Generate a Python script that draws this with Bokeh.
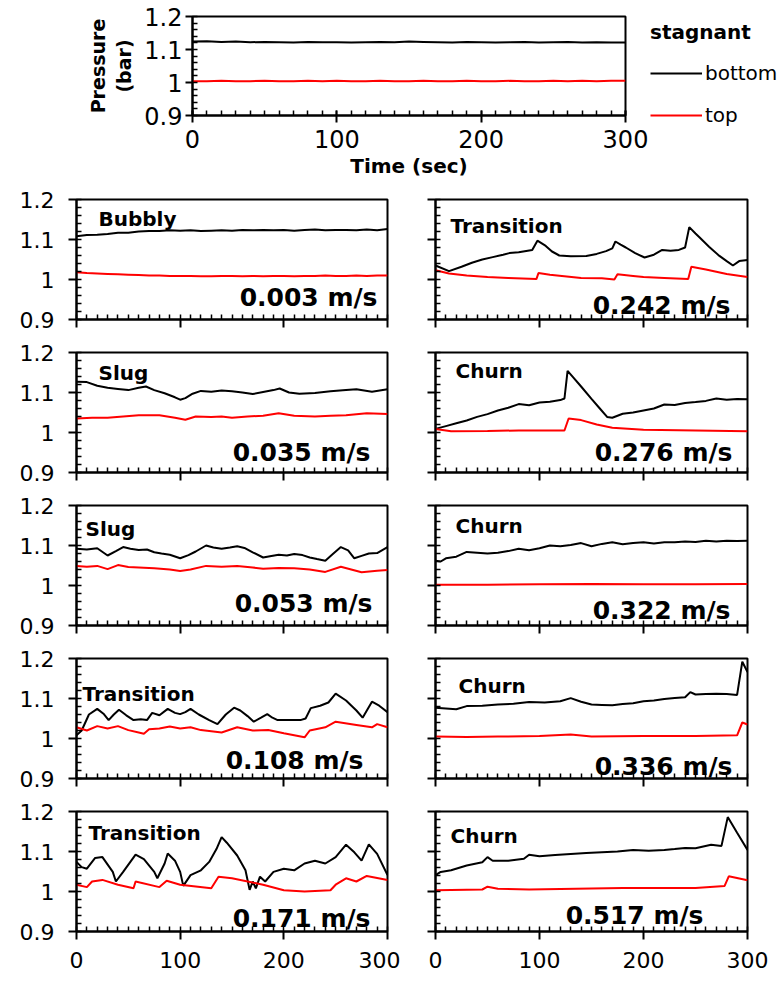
from bokeh.plotting import figure
from bokeh.layouts import column, row
from bokeh.models import Range1d, FixedTicker, Label, Legend, LegendItem, CustomLabelingPolicy
from bokeh.embed import file_html
from bokeh.resources import INLINE

FONT = "DejaVu Sans"
BLACK = "#000000"
RED = "#ff0000"

# ---------------- data ----------------
X_TICKS = [0, 100, 200, 300]
Y_TICKS = [0.9, 1.0, 1.1, 1.2]
Y_TICK_LABELS = ["0.9", "1", "1.1", "1.2"]

stag_t = [0, 10, 20, 30, 40, 50, 60, 70, 80, 90, 100, 110, 120, 130, 140, 150,
          160, 170, 180, 190, 200, 210, 220, 230, 240, 250, 260, 270, 280, 290, 300]
stag_bottom = [1.124, 1.125, 1.123, 1.124, 1.122, 1.123, 1.122, 1.121, 1.123, 1.122, 1.122,
               1.121, 1.122, 1.123, 1.122, 1.124, 1.123, 1.122, 1.121, 1.123, 1.122, 1.121,
               1.122, 1.123, 1.121, 1.122, 1.123, 1.121, 1.122, 1.121, 1.121]
stag_top = [1.004, 1.004, 1.005, 1.004, 1.004, 1.005, 1.004, 1.004, 1.005, 1.004, 1.005,
            1.004, 1.004, 1.005, 1.004, 1.004, 1.005, 1.004, 1.004, 1.005, 1.004, 1.004,
            1.005, 1.004, 1.004, 1.005, 1.004, 1.005, 1.004, 1.005, 1.005]

regimes = ["Bubbly", "Slug", "Slug", "Transition", "Transition",
           "Transition", "Churn", "Churn", "Churn", "Churn"]
speeds = ["0.003 m/s", "0.035 m/s", "0.053 m/s", "0.108 m/s", "0.171 m/s",
          "0.242 m/s", "0.276 m/s", "0.322 m/s", "0.336 m/s", "0.517 m/s"]

# 0.003 m/s
b003_t = stag_t
b003_bottom = [1.108, 1.111, 1.112, 1.114, 1.117, 1.117, 1.120, 1.121, 1.121, 1.123, 1.122,
               1.123, 1.121, 1.122, 1.123, 1.122, 1.124, 1.123, 1.124, 1.123, 1.124, 1.122,
               1.124, 1.125, 1.123, 1.124, 1.124, 1.123, 1.125, 1.123, 1.126]
b003_top_t = stag_t
b003_top = [1.018, 1.016, 1.015, 1.014, 1.013, 1.012, 1.011, 1.010, 1.010, 1.009, 1.009,
            1.009, 1.008, 1.008, 1.009, 1.009, 1.008, 1.009, 1.008, 1.009, 1.009, 1.008,
            1.009, 1.009, 1.010, 1.009, 1.009, 1.010, 1.009, 1.010, 1.010]

# 0.035 m/s
s035_t = [0, 10, 20, 30, 40, 50, 60, 67, 75, 85, 95, 100, 105, 112, 120, 130, 140, 150, 160,
          170, 180, 190, 196, 205, 215, 230, 245, 260, 270, 285, 300]
s035_bottom = [1.127, 1.126, 1.117, 1.112, 1.109, 1.106, 1.112, 1.115, 1.106, 1.098, 1.088,
               1.082, 1.086, 1.097, 1.104, 1.102, 1.105, 1.103, 1.100, 1.096, 1.101, 1.106,
               1.110, 1.100, 1.097, 1.099, 1.103, 1.106, 1.108, 1.102, 1.108]
s035_top_t = [0, 15, 30, 45, 60, 80, 95, 105, 115, 130, 140, 150, 165, 180, 195, 210, 230,
              245, 260, 280, 300]
s035_top = [1.035, 1.037, 1.037, 1.040, 1.043, 1.043, 1.037, 1.032, 1.040, 1.039, 1.040,
            1.037, 1.040, 1.042, 1.048, 1.042, 1.040, 1.042, 1.043, 1.048, 1.046]

# 0.053 m/s
s053_t = [0, 10, 20, 30, 38, 45, 52, 60, 68, 75, 82, 90, 100, 108, 115, 125, 132, 140, 148,
          155, 162, 170, 180, 188, 195, 203, 210, 218, 225, 232, 240, 247, 255, 262, 268,
          275, 282, 290, 300]
s053_bottom = [1.092, 1.090, 1.093, 1.075, 1.086, 1.096, 1.092, 1.089, 1.090, 1.083, 1.080,
               1.077, 1.068, 1.076, 1.085, 1.100, 1.095, 1.092, 1.095, 1.098, 1.094, 1.083,
               1.070, 1.074, 1.077, 1.075, 1.079, 1.076, 1.070, 1.066, 1.062, 1.078, 1.096,
               1.088, 1.068, 1.074, 1.080, 1.081, 1.096]
s053_top_t = [0, 10, 20, 30, 40, 50, 60, 75, 90, 100, 110, 125, 140, 155, 170, 180, 195, 210,
              225, 240, 255, 265, 275, 290, 300]
s053_top = [1.049, 1.047, 1.049, 1.041, 1.051, 1.046, 1.045, 1.043, 1.040, 1.036, 1.040,
            1.049, 1.047, 1.049, 1.045, 1.042, 1.044, 1.043, 1.040, 1.034, 1.047, 1.040,
            1.033, 1.037, 1.039]

# 0.108 m/s
t108_t = [0, 5, 12, 20, 26, 31, 36, 41, 48, 55, 62, 68, 73, 80, 88, 95, 100, 105, 110, 118,
          128, 136, 144, 152, 158, 165, 171, 178, 184, 189, 194, 205, 216, 221, 226, 235,
          243, 250, 260, 270, 276, 285, 292, 300]
t108_bottom = [1.008, 1.020, 1.060, 1.074, 1.062, 1.046, 1.060, 1.072, 1.058, 1.046, 1.048,
               1.046, 1.064, 1.058, 1.074, 1.064, 1.061, 1.066, 1.074, 1.060, 1.046, 1.036,
               1.060, 1.077, 1.070, 1.056, 1.042, 1.052, 1.061, 1.052, 1.046, 1.046, 1.046,
               1.050, 1.076, 1.082, 1.090, 1.112, 1.095, 1.070, 1.052, 1.092, 1.082, 1.066]
t108_top_t = [0, 10, 20, 30, 40, 50, 60, 65, 70, 80, 90, 100, 110, 120, 140, 155, 170, 185,
              200, 220, 225, 240, 250, 270, 285, 290, 300]
t108_top = [1.028, 1.020, 1.031, 1.025, 1.031, 1.021, 1.015, 1.012, 1.023, 1.025, 1.030,
            1.025, 1.028, 1.021, 1.015, 1.028, 1.020, 1.021, 1.013, 1.003, 1.020, 1.028,
            1.042, 1.034, 1.028, 1.036, 1.028]

# 0.171 m/s
t171_t = [0, 5, 10, 18, 25, 35, 38, 45, 57, 65, 75, 78, 85, 88, 95, 100, 103, 110, 120, 128,
          135, 140, 145, 155, 163, 167, 170, 173, 177, 182, 190, 200, 210, 220, 230, 240,
          250, 260, 268, 275, 282, 290, 300]
t171_bottom = [1.074, 1.061, 1.057, 1.084, 1.086, 1.049, 1.025, 1.049, 1.092, 1.081, 1.049,
               1.033, 1.070, 1.095, 1.077, 1.049, 1.014, 1.041, 1.053, 1.074, 1.106, 1.136,
               1.122, 1.090, 1.053, 1.004, 1.025, 1.008, 1.037, 1.025, 1.049, 1.057, 1.053,
               1.070, 1.077, 1.070, 1.086, 1.117, 1.098, 1.077, 1.118, 1.094, 1.041]
t171_top_t = [0, 10, 15, 25, 40, 55, 57, 80, 87, 100, 130, 137, 150, 180, 200, 220, 245, 250,
              260, 270, 280, 300]
t171_top = [1.017, 1.011, 1.025, 1.029, 1.017, 1.008, 1.025, 1.011, 1.027, 1.017, 1.008,
            1.037, 1.033, 1.017, 1.003, 1.000, 1.003, 1.017, 1.033, 1.025, 1.039, 1.029]

# 0.242 m/s
t242_t = [0, 13, 25, 35, 45, 55, 65, 71, 80, 93, 98, 106, 112, 119, 130, 145, 155, 164, 170,
          173, 178, 183, 192, 201, 210, 218, 226, 234, 240, 244, 250, 254, 263, 273, 280,
          286, 292, 300]
t242_bottom = [1.035, 1.021, 1.032, 1.042, 1.050, 1.056, 1.062, 1.066, 1.068, 1.074, 1.097,
               1.084, 1.070, 1.060, 1.058, 1.059, 1.064, 1.071, 1.078, 1.095, 1.087, 1.080,
               1.066, 1.055, 1.062, 1.074, 1.072, 1.074, 1.080, 1.131, 1.115, 1.105, 1.082,
               1.059, 1.046, 1.035, 1.046, 1.049]
t242_top_t = [0, 13, 30, 50, 70, 97, 99, 110, 140, 160, 172, 175, 190, 200, 220, 243, 246,
              260, 280, 300]
t242_top = [1.023, 1.015, 1.010, 1.006, 1.004, 1.001, 1.016, 1.012, 1.004, 1.003, 1.000,
            1.013, 1.009, 1.006, 1.004, 1.001, 1.032, 1.025, 1.014, 1.006]

# 0.276 m/s
c276_t = [0, 10, 20, 30, 40, 50, 60, 70, 80, 90, 100, 110, 120, 124, 127, 132, 140, 150, 158,
          165, 170, 180, 190, 200, 210, 220, 230, 240, 250, 260, 270, 280, 290, 300]
c276_bottom = [1.009, 1.016, 1.023, 1.030, 1.039, 1.046, 1.055, 1.062, 1.071, 1.068, 1.075,
               1.077, 1.081, 1.085, 1.154, 1.139, 1.115, 1.084, 1.060, 1.039, 1.037, 1.047,
               1.050, 1.055, 1.060, 1.070, 1.069, 1.074, 1.076, 1.079, 1.085, 1.082, 1.084,
               1.083]
c276_top_t = [0, 15, 50, 80, 124, 128, 140, 155, 170, 200, 250, 300]
c276_top = [1.009, 1.003, 1.004, 1.005, 1.005, 1.035, 1.031, 1.020, 1.012, 1.007, 1.005, 1.003]

# 0.322 m/s
c322_t = [0, 5, 10, 20, 30, 40, 50, 60, 70, 80, 90, 100, 110, 120, 130, 140, 150, 160, 170,
          180, 190, 200, 210, 220, 230, 240, 250, 260, 270, 280, 290, 300]
c322_bottom = [1.062, 1.060, 1.068, 1.072, 1.084, 1.082, 1.080, 1.082, 1.086, 1.092, 1.088,
               1.093, 1.100, 1.098, 1.101, 1.106, 1.098, 1.104, 1.108, 1.103, 1.106, 1.108,
               1.105, 1.108, 1.108, 1.110, 1.109, 1.112, 1.110, 1.112, 1.111, 1.112]
c322_top_t = [0, 50, 100, 150, 200, 250, 300]
c322_top = [1.002, 1.002, 1.003, 1.004, 1.003, 1.003, 1.004]

# 0.336 m/s
c336_t = [0, 10, 20, 30, 45, 60, 75, 90, 105, 120, 130, 140, 150, 160, 170, 180, 190, 200,
          210, 220, 230, 240, 245, 250, 260, 270, 280, 290, 295, 300]
c336_bottom = [1.077, 1.075, 1.073, 1.081, 1.082, 1.085, 1.087, 1.091, 1.090, 1.093, 1.101,
               1.092, 1.085, 1.084, 1.083, 1.086, 1.088, 1.093, 1.095, 1.099, 1.101, 1.103,
               1.116, 1.110, 1.111, 1.112, 1.111, 1.109, 1.192, 1.166]
c336_top_t = [0, 30, 60, 100, 130, 150, 200, 250, 290, 295, 300]
c336_top = [1.005, 1.004, 1.005, 1.006, 1.010, 1.005, 1.006, 1.006, 1.008, 1.040, 1.035]

# 0.517 m/s
c517_t = [0, 5, 15, 30, 45, 50, 55, 70, 85, 90, 100, 115, 130, 145, 160, 175, 190, 205, 220,
          230, 240, 250, 265, 275, 281, 290, 300]
c517_bottom = [1.041, 1.049, 1.053, 1.065, 1.073, 1.086, 1.077, 1.077, 1.082, 1.092, 1.088,
               1.091, 1.094, 1.096, 1.098, 1.100, 1.104, 1.102, 1.104, 1.106, 1.109, 1.108,
               1.117, 1.114, 1.186, 1.147, 1.104]
c517_top_t = [0, 45, 50, 60, 90, 180, 250, 278, 282, 300]
c517_top = [1.003, 1.005, 1.012, 1.007, 1.005, 1.009, 1.009, 1.014, 1.038, 1.028]

series = [
    (b003_t, b003_bottom, b003_top_t, b003_top),
    (s035_t, s035_bottom, s035_top_t, s035_top),
    (s053_t, s053_bottom, s053_top_t, s053_top),
    (t108_t, t108_bottom, t108_top_t, t108_top),
    (t171_t, t171_bottom, t171_top_t, t171_top),
    (t242_t, t242_bottom, t242_top_t, t242_top),
    (c276_t, c276_bottom, c276_top_t, c276_top),
    (c322_t, c322_bottom, c322_top_t, c322_top),
    (c336_t, c336_bottom, c336_top_t, c336_top),
    (c517_t, c517_bottom, c517_top_t, c517_top),
]

# ---------------- layout / style constants (pixels) ----------------
X_MINOR = list(range(0, 301, 10))
Y_MINOR = [round(0.9 + 0.02 * i, 2) for i in range(16)]
FRAME_H = 120
# regime label offsets (from frame left, from frame top)
REGIME_OFF = [(22, 19), (22, 20), (9, 23), (6, 35), (12, 21),
              (15, 26), (20, 18), (20, 20), (23, 27), (15, 24)]
# speed label offsets (from frame right, from frame bottom)
SPEED_OFF = [(10, 22), (17, 20), (15, 22), (24, 18), (17, 13),
             (17, 14), (15, 20), (17, 15), (15, 12), (44, 16)]

NO_LABELS = "const all = [...indices]; for (const i of all) { indices.unset(i) }; return indices"


def style_axes(p, show_x, show_y, x_in=0, fs="22px"):
    p.xaxis.ticker = FixedTicker(ticks=X_TICKS, minor_ticks=X_MINOR)
    p.yaxis.ticker = FixedTicker(ticks=Y_TICKS, minor_ticks=Y_MINOR)
    p.yaxis.major_label_overrides = {v: s for v, s in zip(Y_TICKS, Y_TICK_LABELS)}
    for ax in (p.xaxis[0], p.yaxis[0]):
        ax.axis_line_width = 2
        ax.axis_line_color = BLACK
        ax.major_tick_line_width = 2
        ax.minor_tick_line_width = 1.5
        ax.major_tick_line_color = BLACK
        ax.minor_tick_line_color = BLACK
        ax.major_tick_out = 8
        ax.major_tick_in = 0
        ax.minor_tick_out = 0
        ax.minor_tick_in = 5
        ax.major_label_text_font = FONT
        ax.major_label_text_color = BLACK
        ax.major_label_text_font_size = fs
        ax.axis_label_text_color = BLACK
    p.xaxis.major_tick_in = x_in
    if not show_x:
        p.xaxis.major_label_policy = CustomLabelingPolicy(code=NO_LABELS)
        p.xaxis.major_label_text_font_size = "1px"
        p.xaxis.major_label_standoff = 0
    else:
        p.xaxis.major_label_standoff = 12
    if not show_y:
        p.yaxis.major_label_policy = CustomLabelingPolicy(code=NO_LABELS)
        p.yaxis.major_label_text_font_size = "1px"
        p.yaxis.major_label_standoff = 0
    else:
        p.yaxis.major_label_standoff = 14
    p.xgrid.visible = False
    p.ygrid.visible = False
    p.outline_line_color = BLACK
    p.outline_line_width = 2
    p.background_fill_color = "white"
    p.border_fill_color = "white"


# ---------------- top (stagnant) panel ----------------
top = figure(frame_width=433, frame_height=99, min_border_left=192, min_border_right=157,
             min_border_top=16, min_border_bottom=70,
             x_range=Range1d(0, 300), y_range=Range1d(0.9, 1.2),
             output_backend="svg", toolbar_location=None, tools="")
style_axes(top, True, True, x_in=5, fs="24px")
top.xaxis.major_tick_out = 7
top.xaxis.major_label_standoff = 7
top.yaxis.major_tick_out = 7
top.yaxis.major_label_standoff = 3
top.xaxis.axis_label = "Time (sec)"
top.xaxis.axis_label_text_font = FONT
top.xaxis.axis_label_text_font_style = "bold"
top.xaxis.axis_label_text_font_size = "20px"
top.xaxis.axis_label_standoff = 3
top.yaxis.axis_label = "Pressure\n(bar)"
top.yaxis.axis_label_text_font = FONT
top.yaxis.axis_label_text_font_style = "bold"
top.yaxis.axis_label_text_font_size = "19px"
top.yaxis.axis_label_standoff = 6

rb = top.line(stag_t, stag_bottom, line_color=BLACK, line_width=2)
rr = top.line(stag_t, stag_top, line_color=RED, line_width=2)
legend = Legend(items=[LegendItem(label="bottom", renderers=[rb]),
                       LegendItem(label="top", renderers=[rr])],
                title="stagnant", location=(25, -12), orientation="vertical",
                title_text_font=FONT, title_text_font_style="bold", title_text_font_size="20px",
                label_text_font=FONT, label_text_font_size="20px", label_text_color=BLACK,
                title_text_color=BLACK,
                glyph_width=52, glyph_height=20, label_height=20, label_standoff=3,
                spacing=18, title_standoff=17, padding=0, margin=0,
                border_line_alpha=0, background_fill_alpha=0)
top.add_layout(legend, "right")


# ---------------- small panels ----------------
def make_small(i):
    col = 0 if i < 5 else 1
    r = i % 5
    last = r == 4
    fw = 311 if col == 0 else 312
    p = figure(frame_width=fw, frame_height=FRAME_H,
               min_border_left=76 if col == 0 else 35,
               min_border_right=13 if col == 0 else 35,
               min_border_top=14, min_border_bottom=50 if last else 19,
               x_range=Range1d(0, 300), y_range=Range1d(0.9, 1.2),
               output_backend="svg", toolbar_location=None, tools="")
    style_axes(p, last, col == 0)
    tb, vb, tr, vr = series[i]
    p.line(tb, vb, line_color=BLACK, line_width=2)
    p.line(tr, vr, line_color=RED, line_width=2)
    sx = 300.0 / fw
    sy = 0.3 / FRAME_H
    dx, dy = REGIME_OFF[i]
    p.add_layout(Label(x=dx * sx, y=1.2 - dy * sy, text=regimes[i], text_font=FONT,
                       text_font_style="bold", text_font_size="20px", text_color=BLACK,
                       text_align="left", text_baseline="middle"))
    dx, dy = SPEED_OFF[i]
    p.add_layout(Label(x=300 - dx * sx, y=0.9 + dy * sy, text=speeds[i], text_font=FONT,
                       text_font_style="bold", text_font_size="25px", text_color=BLACK,
                       text_align="right", text_baseline="middle"))
    return p


panels = [make_small(i) for i in range(10)]
rows = [row(panels[k], panels[k + 5]) for k in range(5)]
layout = column(top, *rows)

open("out.html", "w").write(file_html(layout, INLINE))
